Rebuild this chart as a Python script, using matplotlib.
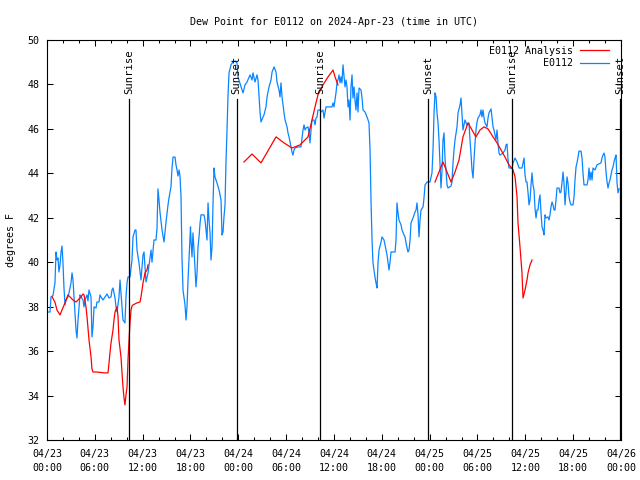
import numpy as np
import pandas as pd
import matplotlib
matplotlib.use("Agg")
import matplotlib.pyplot as plt
import matplotlib.dates as mdates

nan = np.nan
START = "2024-04-23 00:00"

# E0112 observations: hours since 04/23 00:00 UTC, dew point (F)
obs_hours = [0.13, 0.38, 0.5, 0.75, 1.0, 1.13, 1.25, 1.38, 1.5, 1.63, 1.76, 1.88, 2.0, 2.13, 2.26, 2.38,
             2.63, 2.76, 3.01, 3.14, 3.26, 3.39, 3.64, 3.76, 3.89, 4.14, 4.26, 4.52, 4.64, 4.77, 5.02,
             5.14, 5.27, 5.52, 5.64, 5.77, 5.9, 6.15, 6.27, 6.52, 6.65, 6.77, 7.02, 7.28, 7.53, 7.78,
             8.03, 8.15, 8.28, 8.53, 8.66, 8.78, 9.03, 9.16, 9.41, 9.53, 9.78, 9.91, 10.04, 10.16,
             10.41, 10.66, 10.79, 11.04, 11.16, 11.29, 11.54, 11.79, 12.04, 12.17, 12.42, 12.67,
             13.05, 13.17, 13.42, 13.67, 13.8, 13.92, 14.05, 14.17, 14.43, 14.68, 14.93, 15.18, 15.3,
             15.55, 15.68, 15.81, 16.06, 16.18, 16.31, 16.43, 16.56, 16.68, 16.81, 16.93, 17.06,
             17.31, 17.44, 17.56, 17.69, 17.94, 18.0, 18.06, 18.19, 18.31, 18.44, 18.69, 18.82,
             18.94, 19.07, 19.2, 19.32, 19.69, 19.82, 19.95, 20.07, 20.2, 20.32, 20.45, 20.57, 20.7,
             20.82, 20.95, 21.07, 21.32, 21.58, 21.83, 21.95, 22.08, 22.2, 22.33, 22.45, 22.58, 22.7,
             22.83, 23.08, 23.33, 23.58, 23.83, 23.96, 24.34, 24.59, 24.84, 25.09, 25.47, 25.72,
             25.84, 26.09, 26.34, 26.47, 26.72, 26.84, 27.1, 27.22, 27.47, 27.6, 27.85, 28.1, 28.23,
             28.48, 28.73, 28.85, 29.1, 29.23, 29.35, 29.48, 29.73, 29.86, 30.11, 30.23, 30.36,
             30.61, 30.73, 30.86, 30.98, 31.11, 31.49, 31.86, 32.11, 32.24, 32.37, 32.49, 32.74,
             32.87, 32.99, 33.12, 33.24, 33.49, 33.62, 33.74, 33.87, 33.99, 34.25, 34.37, 34.62,
             34.75, 35.0, 35.75, 35.88, 36.0, 36.25, 36.38, 36.5, 36.63, 36.75, 36.88, 37.0, 37.13,
             37.26, 37.38, 37.51, 37.63, 37.76, 37.88, 38.01, 38.13, 38.26, 38.38, 38.51, 38.63,
             38.76, 38.89, 39.01, 39.14, 39.39, 39.52, 39.64, 39.89, 40.14, 40.27, 40.39, 40.52,
             40.64, 40.77, 40.89, 41.14, 41.27, 41.4, 41.52, 41.65, 41.9, 42.02, 42.27, 42.4, 42.65,
             42.9, 43.03, 43.15, 43.66, 43.78, 43.9, 44.03, 44.15, 44.41, 44.53, 44.78, 44.91,
             45.03, 45.28, 45.41, 45.54, 45.66, 45.91, 46.16, 46.29, 46.41, 46.54, 46.66, 46.79,
             46.92, 47.17, 47.29, 47.42, 47.67, 48.04, 48.29, 48.42, 48.55, 48.67, 48.8, 48.92,
             49.05, 49.17, 49.3, 49.42, 49.55, 49.67, 49.8, 49.93, 50.05, 50.18, 50.3, 50.68, 50.8,
             50.93, 51.05, 51.18, 51.43, 51.56, 51.81, 51.93, 52.06, 52.18, 52.43, 52.68, 52.93,
             53.06, 53.18, 53.31, 53.44, 53.56, 53.69, 53.81, 53.94, 54.06, 54.31, 54.44, 54.56,
             54.69, 54.82, 54.94, 55.19, 55.32, 55.44, 55.7, 55.82, 55.95, 56.07, 56.32, 56.45,
             56.57, 56.7, 56.82, 57.2, 57.45, 57.58, 57.7, 57.83, 57.95, 58.33, 58.46, 58.71, 58.96,
             59.21, 59.58, 59.71, 59.84, 59.96, 60.09, 60.21, 60.34, 60.46, 60.59, 60.71, 60.84,
             60.96, 61.09, 61.21, 61.34, 61.47, 61.59, 61.72, 61.84, 61.97, 62.09, 62.22, 62.34,
             62.47, 62.59, 62.84, 62.97, 63.09, 63.22, 63.35, 63.47, 63.6, 63.72, 63.85, 63.97,
             64.22, 64.35, 64.47, 64.6, 64.73, 64.85, 64.98, 65.1, 65.23, 65.35, 65.48, 65.6, 65.73,
             65.98, 66.11, 66.23, 66.36, 66.48, 66.61, 66.73, 66.98, 67.11, 67.23, 67.36, 67.74,
             67.86, 67.99, 68.11, 68.24, 68.37, 68.49, 68.74, 68.99, 69.49, 69.62, 69.74, 69.87,
             69.99, 70.12, 70.25, 70.37, 70.5, 70.62, 70.75, 70.87, 71.0, 71.12, 71.25, 71.38, 71.5,
             71.63, 71.75]
obs_vals = [37.76, 37.76, 38.44, 38.5, 39.07, 40.46, 40.1, 40.19, 39.56, 39.88, 40.46, 40.73, 40.0, 38.84,
            38.08, 38.3, 38.44, 38.62, 39.07, 39.52, 39.2, 38.44, 36.95, 36.59, 37.4, 38.53, 38.44,
            38.3, 37.99, 38.3, 38.53, 38.26, 38.75, 38.44, 36.64, 37.09, 37.99, 37.94, 38.21, 38.21,
            38.53, 38.44, 38.3, 38.44, 38.57, 38.39, 38.44, 38.75, 38.84, 38.39, 37.99, 37.76, 38.44,
            39.2, 37.99, 37.4, 37.27, 38.44, 39.07, 39.34, 39.34, 40.1, 41.14, 41.45, 41.45, 40.55,
            39.97, 39.2, 40.33, 40.46, 39.11, 39.52, 40.55, 40.0, 41.0, 41.0, 41.54, 43.3, 42.8, 42.26,
            41.45, 40.91, 41.81, 42.58, 42.89, 43.39, 44.24, 44.73, 44.73, 44.38, 44.15, 43.88, 44.15,
            43.88, 42.94, 40.24, 38.75, 38.08, 37.4, 37.99, 39.2, 41.14, 41.59, 41.0, 40.24, 41.32,
            40.55, 38.89, 39.52, 40.69, 41.14, 41.77, 42.13, 42.13, 41.9, 41.45, 41.0, 42.67, 41.9,
            41.32, 40.1, 40.69, 42.58, 44.24, 43.84, 43.57, 43.25, 42.8, 41.23, 41.36, 42.04, 42.58,
            44.51, 45.95, 47.44, 48.52, 48.88, 49.01, 49.05, 48.97, 48.34, 47.89, 47.62, 47.98, 48.11,
            48.43, 48.2, 48.52, 48.11, 48.43, 48.2, 46.76, 46.31, 46.54, 46.63, 46.99, 47.44, 47.89,
            48.2, 48.56, 48.79, 48.56, 48.11, 47.75, 47.44, 48.07, 47.44, 46.72, 46.4, 46.09, 45.82,
            45.64, 45.19, 44.96, 44.82, 45.05, 45.14, 45.19, 45.19, 45.95, 46.18, 45.95, 46.04, 46.09,
            45.82, 45.37, 45.95, 46.4, 46.4, 46.18, 46.49, 46.54, 46.85, 46.85, 46.76, 46.85, 46.49,
            46.99, 46.99, 47.17, 46.99, 47.62, 48.07, 48.2, 48.43, 48.07, 48.34, 48.07, 48.88, 48.34,
            47.89, 48.2, 47.89, 46.99, 47.3, 46.4, 47.89, 48.43, 47.39, 47.89, 47.3, 46.85, 47.62,
            46.76, 47.84, 47.75, 47.39, 46.85, 46.76, 46.54, 46.4, 46.27, 45.05, 42.8, 41.0, 39.97,
            39.34, 39.07, 38.84, 39.97, 40.55, 40.91, 41.14, 41.0, 40.78, 40.33, 39.65, 40.01, 40.46,
            40.46, 41.0, 42.67, 42.22, 41.9, 41.68, 41.45, 41.23, 41.14, 40.87, 40.46, 40.55, 41.0,
            41.77, 41.99, 42.26, 42.35, 42.67, 42.13, 41.14, 41.9, 42.35, 42.49, 42.89, 43.48, 43.61,
            43.61, 44.02, 45.05, 46.72, 47.62, 47.44, 46.72, 46.27, 45.5, 44.38, 43.34, 44.15, 45.5,
            45.82, 44.6, 44.15, 43.48, 43.34, 43.43, 43.61, 44.47, 45.05, 45.5, 46.09, 46.72, 47.08,
            47.39, 46.63, 45.95, 46.4, 46.18, 46.27, 45.5, 44.91, 44.15, 43.79, 44.6, 45.37, 45.95,
            46.31, 46.49, 46.63, 46.85, 46.54, 46.85, 46.49, 46.27, 46.09, 46.49, 46.72, 46.9, 46.49,
            46.09, 45.95, 45.5, 45.95, 45.37, 44.91, 44.82, 44.91, 45.05, 45.28, 45.32, 44.6, 44.24,
            44.24, 44.47, 44.69, 44.51, 44.24, 44.24, 44.47, 44.69, 43.93, 43.61, 43.61, 43.12, 42.58,
            42.8, 43.48, 44.02, 43.48, 43.25, 42.44, 41.99, 42.35, 42.35, 42.8, 43.03, 42.22, 41.59,
            41.45, 41.23, 42.13, 41.99, 42.04, 41.9, 42.13, 42.49, 42.71, 42.58, 42.35, 42.35, 42.8,
            43.34, 43.34, 43.12, 43.16, 43.57, 44.06, 43.57, 42.58, 43.16, 43.84, 43.57, 42.94, 42.71,
            42.58, 42.58, 42.94, 43.7, 44.29, 44.47, 44.73, 45.0, 45.0, 44.69, 44.02, 43.48, 43.48,
            43.7, 44.24, 43.7, 44.06, 43.7, 44.24, 44.15, 44.38, 44.47, 44.69, 44.82, 44.91, 44.73,
            44.06, 43.61, 43.34, 43.57, 43.7, 43.93, 44.15, 44.29, 44.51, 44.69, 44.82, 43.57, 43.12,
            43.3]

# E0112 Analysis (NaN marks gaps in the analysis)
ana_hours = [0.63, 1.0, 1.25, 1.63, 1.88, 2.26, 2.63, 2.88, 3.26, 3.64, 3.89, 4.26, 4.52, 4.64, 4.89, 5.02,
             5.27, 5.52, 5.64, 5.77, 6.27, 7.15, 7.65, 7.78, 7.9, 8.03, 8.28, 8.4, 8.53, 8.78, 8.91,
             9.03, 9.28, 9.41, 9.53, 9.66, 9.78, 9.91, 10.04, 10.16, 10.29, 10.41, 10.54, 10.66, 10.79,
             11.29, 11.67, 11.79, 11.92, 12.04, 12.17, 12.29, 12.54, 12.67, 18.0,
             24.71, 25.72, 26.84, 28.73, 29.73, 30.73, 31.74, 32.74, 33.24, 33.62, 33.99, 34.62, 35.25,
             35.88, 36.13, 36.5, 42.0,
             48.67, 49.67, 50.68, 51.18, 51.68, 52.18, 52.81, 53.31, 53.81, 54.31, 54.82, 55.32, 55.95,
             56.45, 56.95, 57.45, 57.95, 58.46, 58.71, 58.96, 59.08, 59.33, 59.58, 59.71, 59.96, 60.21,
             60.34, 60.59, 60.84]
ana_vals = [38.45, 38.2, 37.85, 37.63, 37.85, 38.17, 38.53, 38.44, 38.3, 38.21, 38.3, 38.44, 38.57, 38.53,
            37.99, 37.54, 36.5, 35.74, 35.2, 35.06, 35.06, 35.02, 35.02, 35.47, 35.92, 36.37, 36.95,
            37.4, 37.76, 37.99, 37.54, 36.5, 35.74, 35.02, 34.39, 33.89, 33.58, 34.03, 34.39, 35.6,
            36.5, 37.27, 37.85, 38.03, 38.08, 38.17, 38.21, 38.44, 38.75, 39.07, 39.29, 39.52, 39.65,
            39.88, nan,
            44.51, 44.87, 44.47, 45.64, 45.37, 45.14, 45.28, 45.64, 46.4, 46.99, 47.53, 47.98, 48.34,
            48.65, 48.34, 47.98, nan,
            43.61, 44.51, 43.61, 44.06, 44.6, 45.64, 46.27, 45.95, 45.64, 45.95, 46.09, 46.0, 45.64,
            45.37, 45.05, 44.73, 44.38, 44.15, 43.84, 42.94, 41.77, 40.69, 39.52, 38.39, 38.75, 39.2,
            39.52, 39.88, 40.1]

sun_labels = ["Sunrise", "Sunset", "Sunrise", "Sunset", "Sunrise", "Sunset"]
sun_hours = [10.33, 23.8, 34.25, 47.83, 58.38, 71.88]

title = "Dew Point for E0112 on 2024-Apr-23 (time in UTC)"
ylabel = "degrees F"
series_labels = ["E0112 Analysis", "E0112"]
y_ticks = [32, 34, 36, 38, 40, 42, 44, 46, 48, 50]

FONT = "DejaVu Sans Mono"
FS = 7.2
plt.rcParams["font.family"] = [FONT, "DejaVu Sans"]
plt.rcParams["font.size"] = FS

t0 = pd.Timestamp(START)
to_t = lambda hrs: t0 + pd.to_timedelta(np.asarray(hrs, dtype=float), unit="h")

fig = plt.figure(figsize=(6.4, 4.8), dpi=100)
ax = fig.add_axes([47 / 640, 40 / 480, 574 / 640, 400 / 480])

BLUE = "#0a85ff"
RED = "#ff0000"
ax.plot(to_t(ana_hours), ana_vals, color=RED, lw=0.9, label=series_labels[0], zorder=3)
ax.plot(to_t(obs_hours), obs_vals, color=BLUE, lw=0.9, label=series_labels[1], zorder=2)

for lab, h in zip(sun_labels, sun_hours):
    t = to_t([h])[0]
    ax.plot([t, t], [32, 47.34], color="black", lw=0.9, zorder=4)
    ax.text(t, 47.58, lab, rotation=90, ha="center", va="bottom", fontsize=FS + 0.4, clip_on=False)

ax.set_xlim(t0, t0 + pd.Timedelta(hours=72))
ax.set_ylim(32, 50)
ax.set_yticks(y_ticks)
ax.xaxis.set_major_locator(mdates.HourLocator(byhour=[0, 6, 12, 18]))
ax.xaxis.set_minor_locator(mdates.HourLocator(byhour=range(0, 24, 2)))
ax.xaxis.set_major_formatter(mdates.DateFormatter("%m/%d\n%H:%M"))
ax.tick_params(which="both", direction="in", top=True, right=True, labelsize=FS, width=0.75)
ax.tick_params(which="major", length=4.3, pad=5.5)
ax.tick_params(axis="x", which="major", pad=6.8)
ax.tick_params(which="minor", length=2.4)
for lab in ax.get_xticklabels():
    lab.set_linespacing(1.45)
for s in ax.spines.values():
    s.set_linewidth(0.8)

ax.set_title(title, fontsize=FS, pad=11)
ax.set_ylabel(ylabel, fontsize=FS, labelpad=8.5)

leg = ax.legend(loc="upper right", bbox_to_anchor=(1 - 8 / 574, 1 - 2 / 400),
                frameon=False, markerfirst=False, fontsize=FS,
                handlelength=2.9, handletextpad=0.7, labelspacing=0.25,
                borderaxespad=0.2, borderpad=0.2)

fig.savefig("out.png", dpi=100)
